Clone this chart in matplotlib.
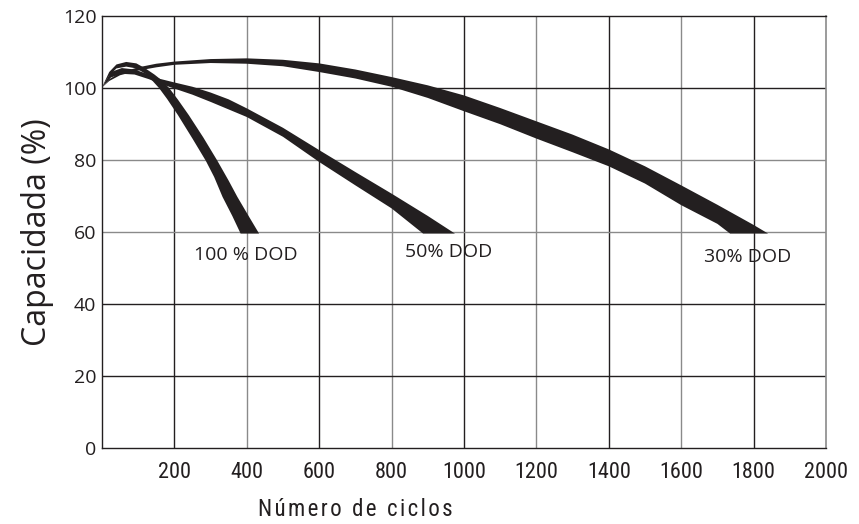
"""
Curvas de capacidad vs número de ciclos para distintas profundidades de descarga (DOD).
"""

import matplotlib

matplotlib.use("Agg")
import matplotlib.pyplot as plt
from matplotlib import font_manager

# ---- datos (ciclos, capacidad %) ----
# cada banda: borde superior (derecho) y borde inferior (izquierdo)
dod100_upper_x = [0, 20, 40, 67, 95, 120, 145, 165, 186, 210, 240, 280, 319, 350, 374, 405, 434]
dod100_upper_y = [100.2, 104.5, 106.6, 107.3, 106.9, 105.5, 103.8, 102.2, 100.0, 96.8, 92.5, 86.3, 79.8, 74.3, 69.8, 64.5, 59.6]
dod100_lower_x = [0, 20, 40, 67, 95, 120, 140, 158, 180, 210, 250, 287, 310, 333, 360, 383]
dod100_lower_y = [100.2, 103.5, 105.5, 106.0, 105.5, 104.0, 102.0, 100.0, 97.0, 92.5, 86.0, 79.8, 75.3, 69.8, 64.5, 59.6]

dod50_upper_x = [0, 25, 55, 90, 130, 160, 200, 250, 300, 350, 400, 500, 600, 700, 800, 900, 975]
dod50_upper_y = [100.2, 104.5, 105.6, 105.2, 103.8, 102.6, 101.6, 100.4, 98.8, 96.9, 94.4, 89.0, 82.8, 76.7, 70.7, 64.5, 59.6]
dod50_lower_x = [0, 25, 55, 90, 130, 160, 200, 250, 300, 350, 400, 500, 600, 700, 800, 887]
dod50_lower_y = [100.2, 103.0, 104.0, 103.8, 102.5, 101.3, 99.9, 98.2, 96.2, 94.1, 92.0, 86.5, 79.5, 73.0, 66.6, 59.6]

dod30_upper_x = [0, 20, 50, 100, 150, 200, 300, 400, 500, 600, 700, 800, 900, 1000, 1100, 1200, 1300, 1400, 1500, 1600, 1700, 1800, 1840]
dod30_upper_y = [100.2, 102.5, 104.3, 105.8, 106.8, 107.4, 108.1, 108.3, 107.9, 106.9, 105.2, 103.1, 100.8, 98.0, 94.5, 90.8, 87.1, 83.0, 78.3, 73.0, 67.6, 62.0, 59.6]
dod30_lower_x = [0, 20, 50, 100, 150, 200, 300, 400, 500, 600, 700, 800, 900, 1000, 1100, 1200, 1300, 1400, 1500, 1600, 1700, 1735]
dod30_lower_y = [100.2, 102.0, 103.6, 104.9, 105.8, 106.5, 107.0, 106.8, 106.1, 104.5, 102.7, 100.4, 97.3, 93.6, 90.0, 86.0, 82.2, 78.3, 73.5, 67.5, 62.3, 59.6]

labels = ["100 % DOD", "50% DOD", "30% DOD"]
label_x = [397, 957, 1784]
label_y = [53.6, 54.4, 53.0]

x_ticks = [200, 400, 600, 800, 1000, 1200, 1400, 1600, 1800, 2000]
y_ticks = [0, 20, 40, 60, 80, 100, 120]

INK = "#231f20"
GRAY = "#8a8a8a"


def pick_font(candidates):
    names = {f.name for f in font_manager.fontManager.ttflist}
    for c in candidates:
        if c in names:
            return c
    return "DejaVu Sans"


def spaced(text):
    # letter-spaced caption, like the original
    return "  ".join("\u200a".join(word) for word in text.split(" "))


main_font = pick_font(["Open Sans", "Lato", "DejaVu Sans"])
narrow_font = pick_font(["Liberation Sans Narrow", "DejaVu Sans Condensed", "Roboto Condensed", main_font])

plt.rcParams["font.family"] = [main_font, "DejaVu Sans"]

fig = plt.figure(figsize=(8.59, 5.24), dpi=100)
ax = fig.add_axes([0.1187, 0.145, 0.8429, 0.824])

# grid: alternating dark/gray lines like the original
for i, xv in enumerate(x_ticks[:-1]):
    ax.axvline(xv, color=INK if i % 2 == 0 else GRAY, lw=1.0, zorder=1)
for yv in [20, 40, 60, 80, 100]:
    ax.axhline(yv, color=GRAY if yv in (60, 80) else INK, lw=1.0, zorder=1)

bands = [
    (dod100_upper_x, dod100_upper_y, dod100_lower_x, dod100_lower_y),
    (dod50_upper_x, dod50_upper_y, dod50_lower_x, dod50_lower_y),
    (dod30_upper_x, dod30_upper_y, dod30_lower_x, dod30_lower_y),
]
for ux, uy, lx, ly in bands:
    px = list(ux) + list(lx[::-1])
    py = list(uy) + list(ly[::-1])
    ax.fill(px, py, color=INK, lw=0, zorder=3)

for txt, tx, ty in zip(labels, label_x, label_y):
    ax.text(tx, ty, txt, ha="center", va="center", fontsize=14, color=INK, zorder=4)

ax.set_xlim(0, 2000)
ax.set_ylim(0, 120)
ax.set_xticks(x_ticks)
ax.set_yticks(y_ticks)
ax.tick_params(length=0, colors=INK)
ax.tick_params(axis="y", labelsize=14, pad=4)
ax.tick_params(axis="x", labelsize=16, pad=10)
for lab in ax.get_xticklabels():
    lab.set_family(narrow_font)

for side in ["left", "bottom", "top"]:
    ax.spines[side].set_color(INK)
    ax.spines[side].set_linewidth(1.0)
ax.spines["right"].set_color(GRAY)
ax.spines["right"].set_linewidth(1.2)

ax.set_ylabel("Capacidada (%)", fontsize=23, color=INK, labelpad=6)
ax.set_xlabel(spaced("Número de ciclos"), fontsize=16.5, color=INK,
              family=[narrow_font, "DejaVu Sans"])
ax.xaxis.set_label_coords(0.35, -0.115)

fig.savefig("out.png", dpi=100)
